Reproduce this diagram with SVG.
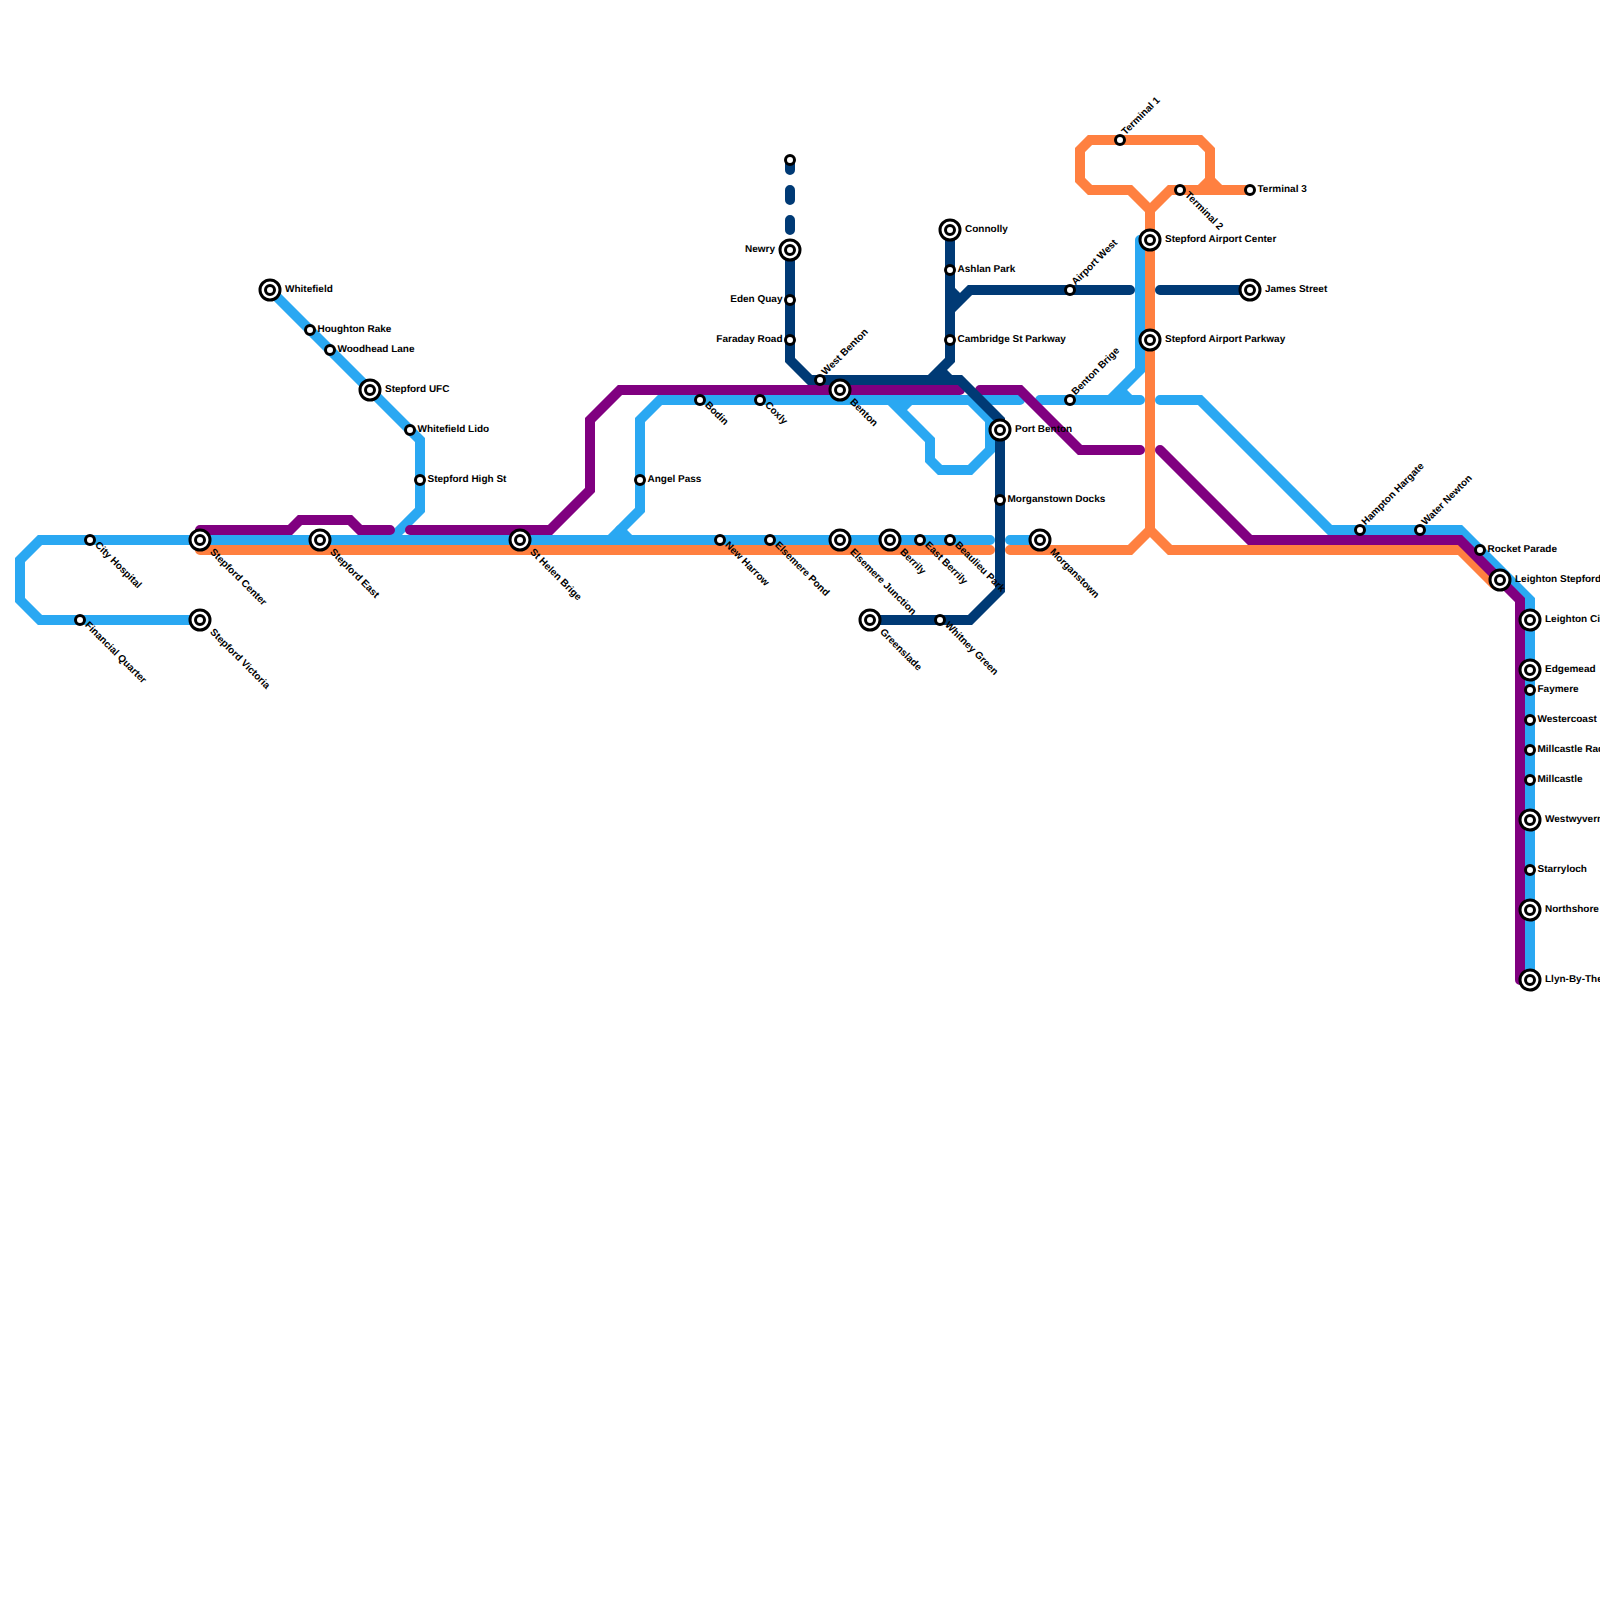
<svg xmlns="http://www.w3.org/2000/svg" width="1600" height="1600" viewBox="0 0 1600 1600">
<style>
.l{fill:none;stroke-width:10;stroke-linecap:round;stroke-linejoin:miter}
.b{stroke:#2aa8f2}.d{stroke:#003a75}.p{stroke:#800080}.o{stroke:#ff8040}
.s{fill:#fff;stroke:#000;stroke-width:3}
.i{fill:#fff;stroke:#000;stroke-width:3}
text{font-family:"Liberation Sans",Arial,sans-serif;font-size:10px;font-weight:700;fill:#000;text-rendering:geometricPrecision}
</style>
<defs>
<g id="ic"><circle r="10" class="i"/><circle r="4.5" class="i"/></g>
<circle id="st" r="4.5" class="s"/>
</defs>
<rect width="1600" height="1600" fill="#fff"/>
<g id="connectors">
<path class="l b" d="M200 620H40L20 600V560L40 540H990M1010 540H1040"/>
<path class="l b" d="M270 290L420 440V510L390 540"/>
<path class="l b" d="M610 540L640 510V420L660 400H1020M1040 400H1140M1160 400H1200L1330 530H1460L1530 600V980"/>
<path class="l b" d="M620 530L630 540M890 400L930 440V460L940 470H970L990 450V420L970 400M900 410L910 400"/>
<path class="l b" d="M1140 240V370L1110 400M1120 390L1130 400"/>
<path class="l o" d="M200 550H990M1010 550H1130L1150 530L1170 550H1460L1494 584"/>
<path class="l o" d="M1150 530V210L1130 190H1090L1080 180V150L1090 140H1200L1210 150V180L1200 190H1170L1150 210M1210 180L1220 190M1170 190H1250"/>
<path class="l p" d="M200 530H290L300 520H350L360 530H390M410 530H550L590 490V420L620 390H960M980 390H1020L1080 450H1140M1160 450L1250 540H1460L1520 600V980"/>
<path class="l d" d="M790 160V250" stroke-dasharray="10 20"/>
<path class="l d" d="M790 250V360L810 380H960L1000 420V590L970 620H870"/>
<path class="l d" d="M950 230V360L930 380M940 370L950 380"/>
<path class="l d" d="M950 310L970 290H1130M950 290L960 300M1160 290H1250"/>
</g>
<g id="n-city-hospital"><use href="#st" x="90" y="540"/><text dy="-.6" transform="translate(94 546) rotate(45)">City Hospital</text></g>
<g id="n-financial-quarter"><use href="#st" x="80" y="620"/><text dy="-.6" transform="translate(84 626) rotate(45)">Financial Quarter</text></g>
<g id="n-stepford-center"><use href="#ic" x="200" y="540"/><text dy="-.6" transform="translate(209 553) rotate(45)">Stepford Center</text></g>
<g id="n-stepford-victoria"><use href="#ic" x="200" y="620"/><text dy="-.6" transform="translate(209 633) rotate(45)">Stepford Victoria</text></g>
<g id="n-stepford-east"><use href="#ic" x="320" y="540"/><text dy="-.6" transform="translate(329 553) rotate(45)">Stepford East</text></g>
<g id="n-st-helen"><use href="#ic" x="520" y="540"/><text dy="-.6" transform="translate(529 553) rotate(45)">St Helen Brige</text></g>
<g id="n-whitefield"><use href="#ic" x="270" y="290"/><text dy="-.6" x="285" y="293">Whitefield</text></g>
<g id="n-houghton"><use href="#st" x="310" y="330"/><text dy="-.6" x="317.5" y="333">Houghton Rake</text></g>
<g id="n-woodhead"><use href="#st" x="330" y="350"/><text dy="-.6" x="337.5" y="353">Woodhead Lane</text></g>
<g id="n-stepford-ufc"><use href="#ic" x="370" y="390"/><text dy="-.6" x="385" y="393">Stepford UFC</text></g>
<g id="n-whitefield-lido"><use href="#st" x="410" y="430"/><text dy="-.6" x="417.5" y="433">Whitefield Lido</text></g>
<g id="n-stepford-high"><use href="#st" x="420" y="480"/><text dy="-.6" x="427.5" y="483">Stepford High St</text></g>
<g id="n-angel-pass"><use href="#st" x="640" y="480"/><text dy="-.6" x="647.5" y="483">Angel Pass</text></g>
<g id="n-bodin"><use href="#st" x="700" y="400"/><text dy="-.6" transform="translate(704 406) rotate(45)">Bodin</text></g>
<g id="n-coxly"><use href="#st" x="760" y="400"/><text dy="-.6" transform="translate(764 406) rotate(45)">Coxly</text></g>
<g id="n-new-harrow"><use href="#st" x="720" y="540"/><text dy="-.6" transform="translate(724 546) rotate(45)">New Harrow</text></g>
<g id="n-elsemere-pond"><use href="#st" x="770" y="540"/><text dy="-.6" transform="translate(774 546) rotate(45)">Elsemere Pond</text></g>
<g id="n-elsemere-junction"><use href="#ic" x="840" y="540"/><text dy="-.6" transform="translate(849 553) rotate(45)">Elsemere Junction</text></g>
<g id="n-berrily"><use href="#ic" x="890" y="540"/><text dy="-.6" transform="translate(899 553) rotate(45)">Berrily</text></g>
<g id="n-east-berrily"><use href="#st" x="920" y="540"/><text dy="-.6" transform="translate(924 546) rotate(45)">East Berrily</text></g>
<g id="n-beaulieu"><use href="#st" x="950" y="540"/><text dy="-.6" transform="translate(954 546) rotate(45)">Beaulieu Park</text></g>
<g id="n-morganstown"><use href="#ic" x="1040" y="540"/><text dy="-.6" transform="translate(1049 553) rotate(45)">Morganstown</text></g>
<g id="n-greenslade"><use href="#ic" x="870" y="620"/><text dy="-.6" transform="translate(879 633) rotate(45)">Greenslade</text></g>
<g id="n-whitney"><use href="#st" x="940" y="620"/><text dy="-.6" transform="translate(944 626) rotate(45)">Whitney Green</text></g>
<g id="n-benton"><use href="#ic" x="840" y="390"/><text dy="-.6" transform="translate(849 403) rotate(45)">Benton</text></g>
<g id="n-west-benton"><use href="#st" x="820" y="380"/><text dy="-.6" transform="translate(826 376) rotate(-45)">West Benton</text></g>
<g id="n-newry"><use href="#ic" x="790" y="250"/><text dy="-.6" x="775" y="253" text-anchor="end">Newry</text></g>
<g id="n-eden"><use href="#st" x="790" y="300"/><text dy="-.6" x="782.5" y="303" text-anchor="end">Eden Quay</text></g>
<g id="n-faraday"><use href="#st" x="790" y="340"/><text dy="-.6" x="782.5" y="343" text-anchor="end">Faraday Road</text></g>
<g id="n-top"><use href="#st" x="790" y="160"/></g>
<g id="n-connolly"><use href="#ic" x="950" y="230"/><text dy="-.6" x="965" y="233">Connolly</text></g>
<g id="n-ashlan"><use href="#st" x="950" y="270"/><text dy="-.6" x="957.5" y="273">Ashlan Park</text></g>
<g id="n-cambridge"><use href="#st" x="950" y="340"/><text dy="-.6" x="957.5" y="343">Cambridge St Parkway</text></g>
<g id="n-port-benton"><use href="#ic" x="1000" y="430"/><text dy="-.6" x="1015" y="433">Port Benton</text></g>
<g id="n-morganstown-docks"><use href="#st" x="1000" y="500"/><text dy="-.6" x="1007.5" y="503">Morganstown Docks</text></g>
<g id="n-airport-west"><use href="#st" x="1070" y="290"/><text dy="-.6" transform="translate(1076 286) rotate(-45)">Airport West</text></g>
<g id="n-benton-brige"><use href="#st" x="1070" y="400"/><text dy="-.6" transform="translate(1076 396) rotate(-45)">Benton Brige</text></g>
<g id="n-terminal-1"><use href="#st" x="1120" y="140"/><text dy="-.6" transform="translate(1126 136) rotate(-45)">Terminal 1</text></g>
<g id="n-terminal-2"><use href="#st" x="1180" y="190"/><text dy="-.6" transform="translate(1184 196) rotate(45)">Terminal 2</text></g>
<g id="n-terminal-3"><use href="#st" x="1250" y="190"/><text dy="-.6" x="1257.5" y="193">Terminal 3</text></g>
<g id="n-airport-center"><use href="#ic" x="1150" y="240"/><text dy="-.6" x="1165" y="243">Stepford Airport Center</text></g>
<g id="n-airport-parkway"><use href="#ic" x="1150" y="340"/><text dy="-.6" x="1165" y="343">Stepford Airport Parkway</text></g>
<g id="n-james"><use href="#ic" x="1250" y="290"/><text dy="-.6" x="1265" y="293">James Street</text></g>
<g id="n-hampton"><use href="#st" x="1360" y="530"/><text dy="-.6" transform="translate(1366 526) rotate(-45)">Hampton Hargate</text></g>
<g id="n-water-newton"><use href="#st" x="1420" y="530"/><text dy="-.6" transform="translate(1426 526) rotate(-45)">Water Newton</text></g>
<g id="n-rocket"><use href="#st" x="1480" y="550"/><text dy="-.6" x="1487.5" y="553">Rocket Parade</text></g>
<g id="n-leighton-stepford"><use href="#ic" x="1500" y="580"/><text dy="-.6" x="1515" y="583">Leighton Stepford</text></g>
<g id="n-leighton-city"><use href="#ic" x="1530" y="620"/><text dy="-.6" x="1545" y="623">Leighton City</text></g>
<g id="n-edgemead"><use href="#ic" x="1530" y="670"/><text dy="-.6" x="1545" y="673">Edgemead</text></g>
<g id="n-faymere"><use href="#st" x="1530" y="690"/><text dy="-.6" x="1537.5" y="693">Faymere</text></g>
<g id="n-westercoast"><use href="#st" x="1530" y="720"/><text dy="-.6" x="1537.5" y="723">Westercoast</text></g>
<g id="n-millcastle-road"><use href="#st" x="1530" y="750"/><text dy="-.6" x="1537.5" y="753">Millcastle Racecourse</text></g>
<g id="n-millcastle"><use href="#st" x="1530" y="780"/><text dy="-.6" x="1537.5" y="783">Millcastle</text></g>
<g id="n-westwyvern"><use href="#ic" x="1530" y="820"/><text dy="-.6" x="1545" y="823">Westwyvern</text></g>
<g id="n-starryloch"><use href="#st" x="1530" y="870"/><text dy="-.6" x="1537.5" y="873">Starryloch</text></g>
<g id="n-northshore"><use href="#ic" x="1530" y="910"/><text dy="-.6" x="1545" y="913">Northshore</text></g>
<g id="n-llyn"><use href="#ic" x="1530" y="980"/><text dy="-.6" x="1545" y="983">Llyn-By-The-Sea</text></g>
</svg>
